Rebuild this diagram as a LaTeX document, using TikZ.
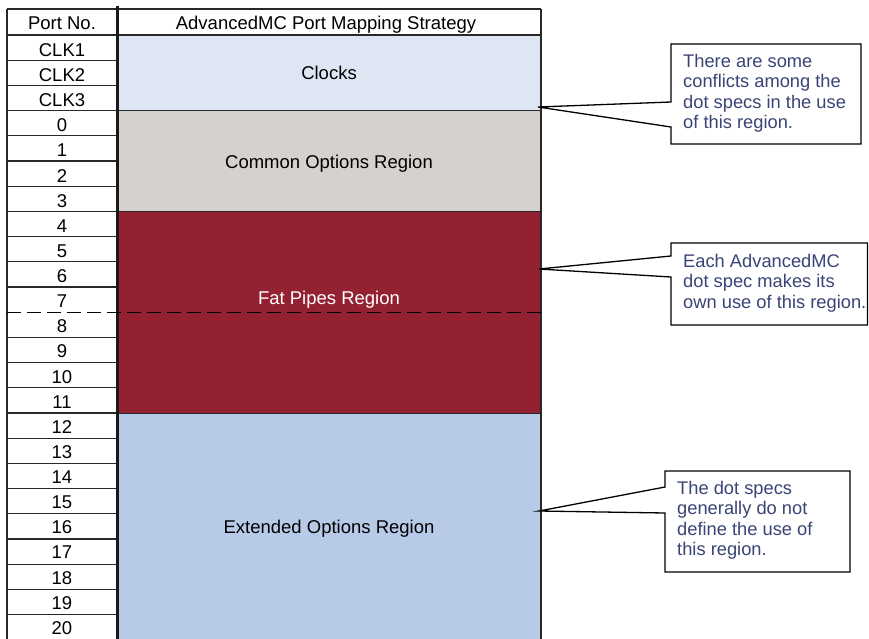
\documentclass[tikz,border=0pt]{standalone}
\usepackage{fontspec}
\setmainfont{Liberation Sans}
\definecolor{clkfill}{RGB}{222,230,243}
\definecolor{comfill}{RGB}{213,209,206}
\definecolor{fatfill}{RGB}{148,33,50}
\definecolor{extfill}{RGB}{183,203,232}
\definecolor{notetext}{RGB}{58,68,118}
\definecolor{rule}{RGB}{40,40,40}
\tikzset{
  lbl/.style={font=\fontsize{18.5}{21}\selectfont, inner sep=0, anchor=base},
  note/.style={font=\fontsize{18.3}{20.6}\selectfont, text=notetext, align=left, anchor=north west, inner sep=0},
  callout/.style={draw=black, line width=1.3pt, fill=white, line join=miter},
  rowrule/.style={draw=rule, line width=1.3pt},
  border/.style={draw=rule, line width=1.3pt},
  divider/.style={draw=black!90, line width=3pt},
  dashline/.style={draw=black, line width=1.3pt, dash pattern=on 14pt off 6pt},
}
\begin{document}
\begin{tikzpicture}[x=1pt,y=-1pt]
\useasboundingbox (0,0) rectangle (869,639);
% region fills
\fill[clkfill] (117,35) rectangle (541,110.75);
\fill[comfill] (117,110.75) rectangle (541,211.75);
\fill[fatfill] (117,211.75) rectangle (541,413.75);
\fill[extfill] (117,413.75) rectangle (541,639);
% region separators
\draw[rowrule] (117,110.75) -- (541,110.75);
\draw[rowrule] (117,211.75) -- (541,211.75);
\draw[rowrule] (117,413.75) -- (541,413.75);
% port row rules
\foreach \i in {1,...,23}{
  \ifnum\i=11\else
    \draw[rowrule] (7,{35+\i*25.2}) -- (117,{35+\i*25.2});
  \fi
}
% borders
\draw[border] (7,9) -- (541,9);
\draw[border] (7,35) -- (541,35);
\draw[border] (7,9) -- (7,639);
\draw[border] (541,9) -- (541,639);
\draw[divider] (117,6) -- (117,639);
% dashed line
\draw[dashline] (7,312.2) -- (541,312.2);
% header
\node[lbl] (hport) at (62,29.5) {Port No.};
\node[lbl] (hstrat) at (326,29.5) {AdvancedMC Port Mapping Strategy};
% port labels
\foreach \lab [count=\i from 0] in {CLK1,CLK2,CLK3,0,1,2,3,4,5,6,7,8,9,10,11,12,13,14,15,16,17,18,19,20}{
  \node[lbl] (p\i) at (62,{56.5+\i*25.12}) {\lab};
}
% region labels
\node[lbl] (rclk) at (329,79.5) {Clocks};
\node[lbl] (rcom) at (329,168.3) {Common Options Region};
\node[lbl, text=white] (rfat) at (329,304.5) {Fat Pipes Region};
\node[lbl] (rext) at (329,533.5) {Extended Options Region};
% callout tips
\coordinate (t1) at (538,107);
\coordinate (t2) at (539,269);
\coordinate (t3) at (539,511);
% callouts
\draw[callout] (671,44) -- (861,44) -- (861,144) -- (671,144) -- (671,127) -- (t1) -- (671,102) -- cycle;
\node[note] (n1) at (683,53.7) {There are some\\conflicts among the\\dot specs in the use\\of this region.};
\draw[callout] (671,243) -- (867.5,243) -- (867.5,325) -- (671,325) -- (671,277) -- (t2) -- (671,256) -- cycle;
\node[note] (n2) at (683,253.7) {Each AdvancedMC\\dot spec makes its\\own use of this region.};
\draw[callout] (665,471) -- (850,471) -- (850,572) -- (665,572) -- (665,513) -- (t3) -- (665,487) -- cycle;
\node[note] (n3) at (677,480.7) {The dot specs\\generally do not\\define the use of\\this region.};
\end{tikzpicture}
\end{document}
